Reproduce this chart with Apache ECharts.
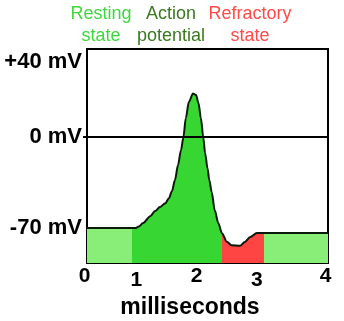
<!DOCTYPE html>
<html>
<head>
<meta charset="utf-8">
<script src="https://cdn.jsdelivr.net/npm/echarts@6/dist/echarts.min.js"></script>
<style>
html,body{margin:0;padding:0;background:#fff;}
#chart{width:344px;height:321px;}
</style>
</head>
<body>
<div id="chart"></div>
<script>
// time (ms) and membrane potential (mV)
var timeMs = [0, 0.80, 0.86, 0.93, 1.05, 1.13, 1.21, 1.30, 1.36, 1.41, 1.46, 1.51, 1.56, 1.60, 1.64, 1.69, 1.76, 1.81, 1.85, 1.89, 1.93, 1.96, 2.00, 2.03, 2.07, 2.12, 2.18, 2.24, 2.32, 2.40, 2.54, 2.62, 2.71, 2.82, 2.93, 4];
var voltageMv = [-70, -70, -68.9, -66.2, -60.9, -57.0, -53.9, -50.9, -47.0, -41.6, -33.1, -21.6, -10.0, 0, 14.8, 27.1, 33.7, 32.5, 26.4, 14.8, 0, -12.3, -23.9, -33.1, -42.4, -56.3, -66.3, -74.0, -80.6, -83.3, -83.7, -80.8, -76.9, -73.8, -73.8, -73.8];

// phase boundaries (ms)
var phaseBounds = [0, 0.74, 2.24, 2.93, 4];
var phaseNames = ['Resting state', 'Action potential', 'Refractory state', 'Resting state'];
var phaseColors = ['#88ee78', '#38d632', '#ff4444', '#88ee78'];

// header labels
var headerLines = [['Resting', 'state'], ['Action', 'potential'], ['Refractory', 'state']];
var headerColors = ['#3ed83e', '#3a7a1e', '#ff4a4a'];

// axis ticks and labels
var xTicks = [0, 1, 2, 3, 4];
var xTickLabels = ['0', '1', '2', '3', '4'];
var yTicks = [-70, 0, 40];
var yTickLabels = ['-70 mV', '0 mV', '+40 mV'];
var xAxisTitle = 'milliseconds';

var chart = echarts.init(document.getElementById('chart'), null, {renderer: 'canvas'});

var pieces = [];
for (var i = 0; i < phaseColors.length; i++) {
  var p = {color: phaseColors[i]};
  if (i > 0) p.gte = phaseBounds[i];
  if (i < phaseColors.length - 1) p.lt = phaseBounds[i + 1];
  pieces.push(p);
}

var data = timeMs.map(function (t, i) { return [t, voltageMv[i]]; });

var FONT = '"Liberation Sans", Arial, sans-serif';

var headerX = [101, 171, 250];
var graphics = headerLines.map(function (lines, i) {
  return {
    type: 'text',
    x: headerX[i],
    y: 25,
    style: {
      text: lines.join('\n'),
      textAlign: 'center',
      textVerticalAlign: 'middle',
      fill: headerColors[i],
      font: '18px "Liberation Sans"',
      lineHeight: 22
    }
  };
});

function richStyle(pad) {
  return {fontFamily: FONT, fontWeight: 'bold', fontSize: 21, color: '#000', padding: pad};
}

chart.setOption({
  animation: false,
  backgroundColor: '#fff',
  grid: {left: 87, top: 49, right: 16, bottom: 58, outerBoundsMode: 'none', containLabel: false,
         show: true, borderColor: '#000', borderWidth: 2, backgroundColor: 'transparent'},
  graphic: graphics,
  visualMap: {type: 'piecewise', show: false, dimension: 0, seriesIndex: 0, pieces: pieces},
  xAxis: {
    type: 'value', min: 0, max: 4,
    axisLine: {show: false}, axisTick: {show: false}, splitLine: {show: false},
    axisLabel: {
      customValues: xTicks,
      margin: 3,
      color: '#000',
      fontFamily: FONT, fontWeight: 'bold', fontSize: 21,
      formatter: function (v) {
        var idx = xTicks.indexOf(v);
        var s = idx >= 0 ? xTickLabels[idx] : '';
        if (idx === 1 || idx === 3) return '{b|' + s + '}';
        if (idx === 2) return '{a|' + s + '}';
        return '{e|' + s + '}';
      },
      rich: {
        a: richStyle([0, 22, 0, 0]),
        b: richStyle([4, 22, 0, 0]),
        e: richStyle([0, 5, 0, 0])
      }
    },
    name: xAxisTitle,
    nameLocation: 'middle',
    nameGap: 33,
    nameTextStyle: {fontFamily: FONT, fontWeight: 'bold', fontSize: 23, color: '#000', padding: [0, 35, 0, 0]}
  },
  yAxis: {
    type: 'value', min: -97, max: 68,
    axisLine: {show: false},
    splitLine: {show: false},
    axisTick: {show: true, customValues: [0], length: 4, lineStyle: {color: '#000', width: 2}},
    axisLabel: {
      customValues: yTicks,
      margin: 5,
      color: '#000',
      fontFamily: FONT, fontWeight: 'bold', fontSize: 22,
      formatter: function (v) {
        var idx = yTicks.indexOf(v);
        var s = idx >= 0 ? yTickLabels[idx] : '';
        if (v === 40) return '{t|' + s + '}';
        return s;
      },
      rich: {
        t: {fontFamily: FONT, fontWeight: 'bold', fontSize: 22, color: '#000', padding: [0, 0, 46, 0]}
      }
    }
  },
  series: [{
    type: 'line',
    data: data,
    smooth: 0.3,
    smoothMonotone: 'x',
    showSymbol: false,
    lineStyle: {color: '#0a1a0a', width: 2},
    areaStyle: {origin: 'start', opacity: 1},
    markLine: {
      silent: true,
      symbol: 'none',
      label: {show: false},
      lineStyle: {color: '#000', width: 2, type: 'solid'},
      data: [{yAxis: 0}]
    },
    z: 2
  }]
});
</script>
</body>
</html>
